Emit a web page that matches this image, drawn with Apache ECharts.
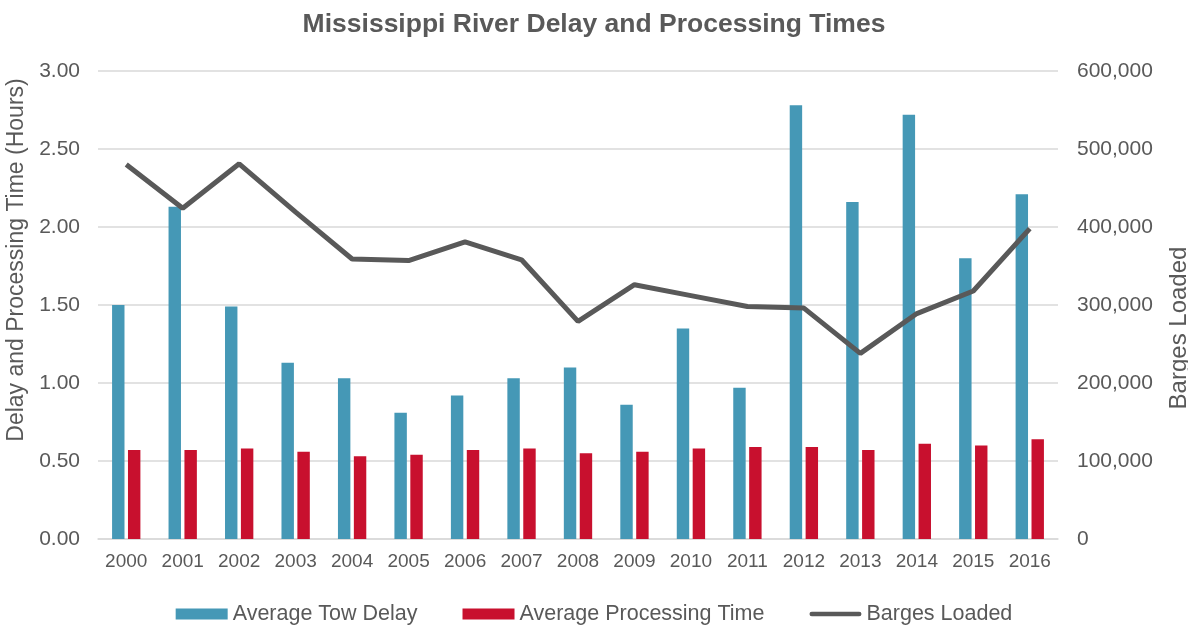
<!DOCTYPE html>
<html>
<head>
<meta charset="utf-8">
<script src="https://cdn.jsdelivr.net/npm/echarts@6/dist/echarts.min.js"></script>
<style>
html,body{margin:0;padding:0;background:#fff;}
#chart{width:1188px;height:625px;}
</style>
</head>
<body>
<div id="chart"></div>
<script>
var years = ['2000','2001','2002','2003','2004','2005','2006','2007','2008','2009','2010','2011','2012','2013','2014','2015','2016'];
var towDelay = [1.50,2.13,1.49,1.13,1.03,0.81,0.92,1.03,1.10,0.86,1.35,0.97,2.78,2.16,2.72,1.80,2.21];
var processingTime = [0.57,0.57,0.58,0.56,0.53,0.54,0.57,0.58,0.55,0.56,0.58,0.59,0.59,0.57,0.61,0.60,0.64];
var bargesLoaded = [480000,424000,481000,419000,359000,357000,381000,358000,279000,326000,312000,298000,296000,238000,289000,318000,398000];

var textColor = '#595959';
var font = 'Liberation Sans, Arial, sans-serif';
var chart = echarts.init(document.getElementById('chart'));
chart.setOption({
  backgroundColor: '#ffffff',
  animation: false,
  textStyle: {fontFamily: font, color: textColor},
  title: {
    text: 'Mississippi River Delay and Processing Times',
    left: 'center',
    top: 6,
    textStyle: {fontFamily: font, fontSize: 26.5, fontWeight: 'bold', color: textColor}
  },
  legend: {
    top: 598,
    left: 'center',
    itemWidth: 52,
    itemHeight: 11,
    itemGap: 45,
    textStyle: {fontFamily: font, fontSize: 21.5, color: textColor},
    data: [
      {name: 'Average Tow Delay', icon: 'rect'},
      {name: 'Average Processing Time', icon: 'rect'},
      {name: 'Barges Loaded', icon: 'path://M2.5,0 L53.5,0 A2.5,2.5 0 0 1 53.5,5 L2.5,5 A2.5,2.5 0 0 1 2.5,0 Z'}
    ]
  },
  grid: {left: 98, right: 130, top: 71, bottom: 86, containLabel: false, outerBoundsMode: 'none'},
  xAxis: {
    type: 'category',
    data: years,
    axisLine: {lineStyle: {color: '#D9D9D9', width: 1.5}},
    axisTick: {show: false},
    axisLabel: {fontFamily: font, fontSize: 19, color: textColor, margin: 13}
  },
  yAxis: [
    {
      type: 'value',
      min: 0, max: 3, interval: 0.5,
      name: 'Delay and Processing Time (Hours)',
      nameLocation: 'middle',
      nameRotate: 90,
      nameGap: 69,
      nameTextStyle: {fontFamily: font, fontSize: 23, color: textColor, padding: [0, 0, 0, 90]},
      axisLine: {show: false},
      axisTick: {show: false},
      axisLabel: {fontFamily: font, fontSize: 21, color: textColor, margin: 18,
        formatter: function (v) { return v.toFixed(2); }},
      splitLine: {lineStyle: {color: '#D9D9D9', width: 1.5}}
    },
    {
      type: 'value',
      min: 0, max: 600000, interval: 100000,
      name: 'Barges Loaded',
      nameLocation: 'middle',
      nameRotate: 90,
      nameGap: 109,
      nameTextStyle: {fontFamily: font, fontSize: 24, color: textColor, padding: [0, 46, 0, 0]},
      axisLine: {show: false},
      axisTick: {show: false},
      axisLabel: {fontFamily: font, fontSize: 21, color: textColor, margin: 19,
        formatter: function (v) { return v.toLocaleString('en-US'); }},
      splitLine: {show: false}
    }
  ],
  series: [
    {
      name: 'Average Tow Delay',
      type: 'bar',
      data: towDelay,
      barWidth: '22%',
      barGap: '28%',
      itemStyle: {color: '#4598B6'}
    },
    {
      name: 'Average Processing Time',
      type: 'bar',
      data: processingTime,
      barWidth: '22%',
      itemStyle: {color: '#C8102E'}
    },
    {
      name: 'Barges Loaded',
      type: 'line',
      yAxisIndex: 1,
      data: bargesLoaded,
      symbol: 'none',
      lineStyle: {color: '#595959', width: 5},
      itemStyle: {color: '#595959'}
    }
  ]
});
</script>
</body>
</html>
